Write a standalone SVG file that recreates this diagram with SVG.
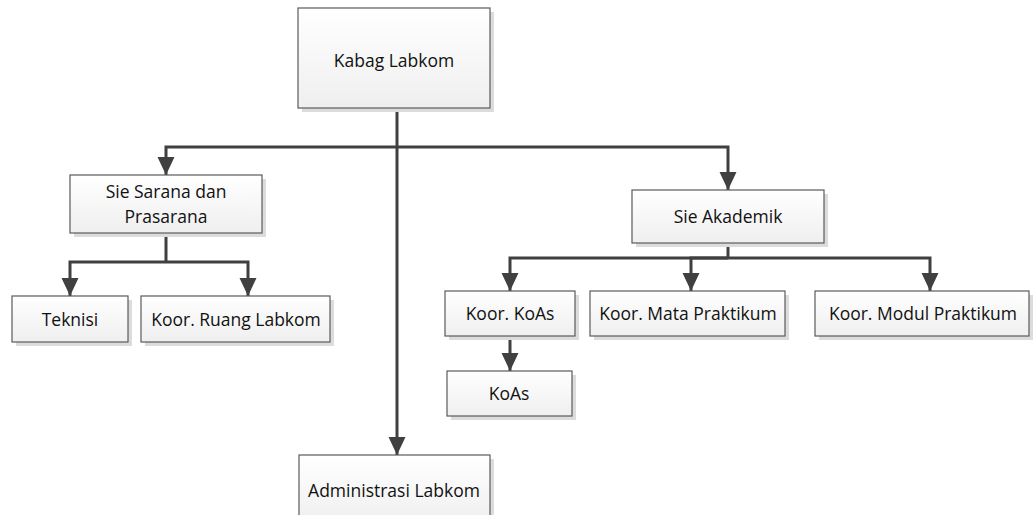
<svg xmlns="http://www.w3.org/2000/svg" width="1033" height="515" viewBox="0 0 1033 515">
  <style>
    .box { fill: url(#boxFill); stroke: #5a5a5a; stroke-width: 1.2; }
    .shadow { fill: #dcdcdc; }
    .label { font-family: "Open Sans", "Liberation Sans", sans-serif; font-size: 17.5px; fill: #111; text-anchor: middle; dominant-baseline: central; }
    .wire { fill: none; stroke: #404040; stroke-width: 3; }
    .arrow { marker-end: url(#head); }
  </style>
  <defs>
    <linearGradient id="boxFill" x1="0" y1="0" x2="0" y2="1">
      <stop offset="0" stop-color="#ffffff"/>
      <stop offset="1" stop-color="#efefef"/>
    </linearGradient>
    <!-- filled triangular arrowhead shared by all connectors -->
    <marker id="head" markerUnits="userSpaceOnUse" markerWidth="18" markerHeight="18" refX="18" refY="8.5" orient="auto" viewBox="0 0 18 17">
      <path d="M0,0 L18,8.5 L0,17 Z" fill="#404040"/>
    </marker>
  </defs>
  <rect width="1033" height="515" fill="#ffffff"/>

  <!-- connectors -->
  <g id="connectors">
    <path class="wire" d="M397,108 V147"/>
    <path class="wire arrow" d="M397,147 H166 V175"/>
    <path class="wire arrow" d="M397,147 H728 V190"/>
    <path class="wire arrow" d="M397,147 V455"/>
    <path class="wire" d="M166,233 V262"/>
    <path class="wire arrow" d="M166,262 H70 V296"/>
    <path class="wire arrow" d="M166,262 H248 V296"/>
    <path class="wire" d="M728,243 V258"/>
    <path class="wire arrow" d="M728,258 H510 V291"/>
    <path class="wire arrow" d="M728,258 H691 V291"/>
    <path class="wire arrow" d="M728,258 H930 V291"/>
    <path class="wire arrow" d="M510,336 V371"/>
  </g>

  <g id="kabag">
    <rect class="shadow" x="302" y="12" width="192" height="100"/>
    <rect class="box" x="298" y="8" width="192" height="100"/>
    <text class="label" x="394" y="60">Kabag Labkom</text>
  </g>

  <g id="sie-sarana">
    <rect class="shadow" x="74" y="179" width="192" height="58"/>
    <rect class="box" x="70" y="175" width="192" height="58"/>
    <text class="label" x="166" y="191">Sie Sarana dan</text>
    <text class="label" x="166" y="216">Prasarana</text>
  </g>

  <g id="sie-akademik">
    <rect class="shadow" x="636" y="194" width="192" height="53"/>
    <rect class="box" x="632" y="190" width="192" height="53"/>
    <text class="label" x="728" y="216">Sie Akademik</text>
  </g>

  <g id="teknisi">
    <rect class="shadow" x="16" y="300" width="116" height="46"/>
    <rect class="box" x="12" y="296" width="116" height="46"/>
    <text class="label" x="70" y="319">Teknisi</text>
  </g>

  <g id="koor-ruang">
    <rect class="shadow" x="145" y="300" width="189" height="46"/>
    <rect class="box" x="141" y="296" width="189" height="46"/>
    <text class="label" x="236" y="319">Koor. Ruang Labkom</text>
  </g>

  <g id="koor-koas">
    <rect class="shadow" x="449" y="295" width="130" height="45"/>
    <rect class="box" x="445" y="291" width="130" height="45"/>
    <text class="label" x="510" y="313">Koor. KoAs</text>
  </g>

  <g id="koor-mata">
    <rect class="shadow" x="594" y="295" width="195" height="45"/>
    <rect class="box" x="590" y="291" width="195" height="45"/>
    <text class="label" x="688" y="313">Koor. Mata Praktikum</text>
  </g>

  <g id="koor-modul">
    <rect class="shadow" x="819" y="295" width="214" height="45"/>
    <rect class="box" x="815" y="291" width="214" height="45"/>
    <text class="label" x="923" y="313">Koor. Modul Praktikum</text>
  </g>

  <g id="koas">
    <rect class="shadow" x="451" y="375" width="125" height="45"/>
    <rect class="box" x="447" y="371" width="125" height="45"/>
    <text class="label" x="509" y="393">KoAs</text>
  </g>

  <g id="administrasi">
    <rect class="shadow" x="303" y="459" width="191" height="70"/>
    <rect class="box" x="299" y="455" width="191" height="70"/>
    <text class="label" x="394" y="490">Administrasi Labkom</text>
  </g>
</svg>
